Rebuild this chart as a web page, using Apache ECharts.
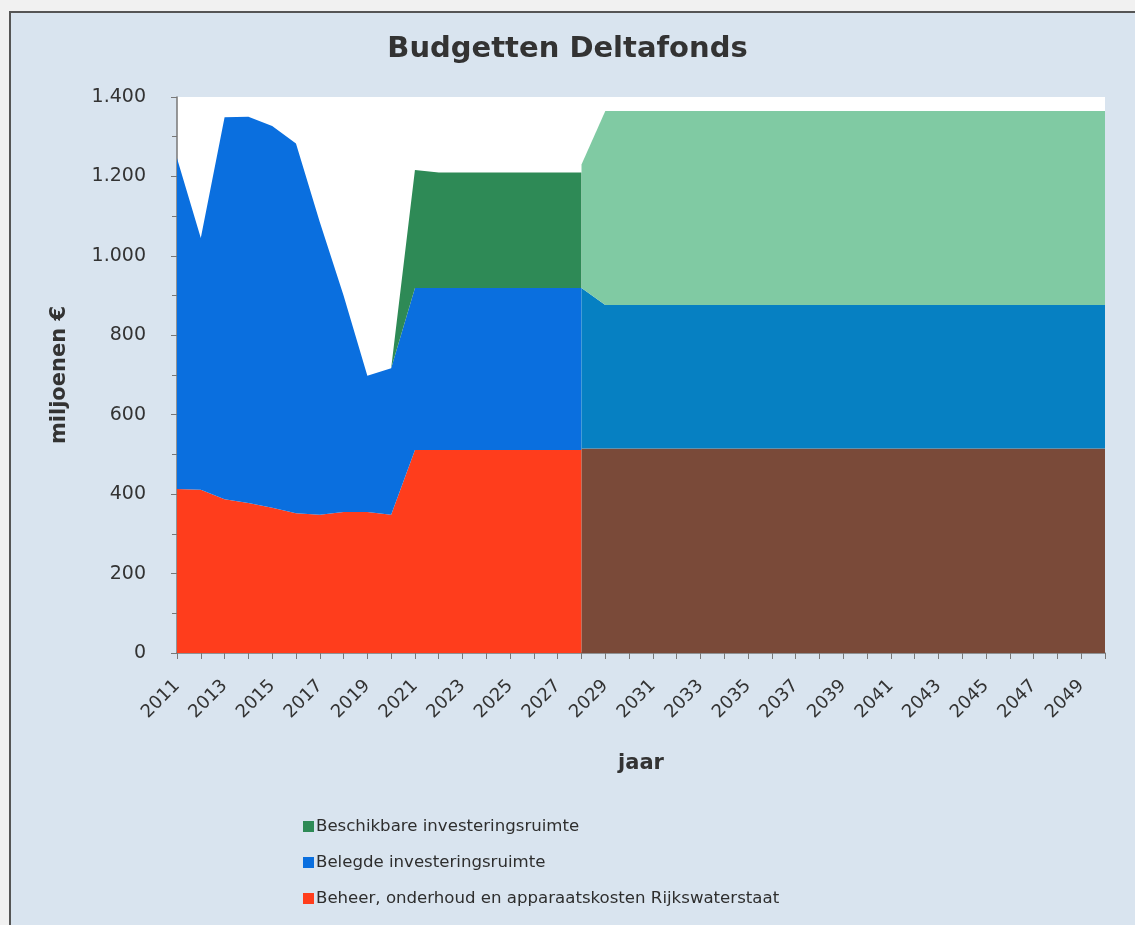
<!DOCTYPE html>
<html>
<head>
<meta charset="utf-8">
<script src="https://cdn.jsdelivr.net/npm/echarts@6/dist/echarts.min.js"></script>
<style>
html,body{margin:0;padding:0;background:#f1f1f1;width:1135px;height:925px;overflow:hidden;}
#frame{position:absolute;left:9px;top:11px;right:0;bottom:0;background:#d9e4ef;border-left:2px solid #555;border-top:2px solid #555;}
#chart{position:absolute;left:0;top:0;width:1135px;height:925px;}
</style>
</head>
<body>
<div id="frame"></div>
<div id="chart"></div>
<script>
const years = [];
for (let y = 2011; y <= 2050; y++) years.push(String(y));

// Historical series 2011-2028
const beheerHist   = [413,411,387,378,366,352,348,355,355,348,511,511,511,511,511,511,511,511];
const belegdHist   = [833,634,962,972,961,931,737,545,343,369,408,408,408,408,408,408,408,408];
const beschikHist  = [null,null,null,null,null,null,null,null,null,0,297,291,291,291,291,291,291,291];

// Projection series 2028-2050
const beheerProj  = [515,515,515,515,515,515,515,515,515,515,515,515,515,515,515,515,515,515,515,515,515,515,515];
const belegdProj  = [404,361,361,361,361,361,361,361,361,361,361,361,361,361,361,361,361,361,361,361,361,361,361];
const beschikProj = [311,489,489,489,489,489,489,489,489,489,489,489,489,489,489,489,489,489,489,489,489,489,489];

const yTicks = [0,200,400,600,800,1000,1200,1400];

function padHist(arr){ const out = arr.slice(); while(out.length < years.length) out.push(null); return out; }
function padProj(arr){ const out = []; while(out.length + arr.length < years.length) out.push(null); return out.concat(arr); }

const FONT = 'DejaVu Sans';
const chart = echarts.init(document.getElementById('chart'));

function area(name, stack, data, color){
  return {
    name: name, type: 'line', stack: stack, data: data,
    symbol: 'none', showSymbol: false,
    lineStyle: {width: 0, color: color},
    itemStyle: {color: color},
    areaStyle: {color: color, opacity: 1},
    emphasis: {disabled: true},
    animation: false
  };
}

chart.setOption({
  backgroundColor: 'transparent',
  textStyle: {fontFamily: FONT},
  title: {
    text: 'Budgetten Deltafonds',
    left: 'center', top: 30,
    textStyle: {fontFamily: FONT, fontSize: 29, fontWeight: 'bold', color: '#333'}
  },
  legend: {
    orient: 'vertical', left: 298, top: 813,
    itemWidth: 11, itemHeight: 11, itemGap: 19,
    icon: 'rect',
    data: ['Beschikbare investeringsruimte','Belegde investeringsruimte','Beheer, onderhoud en apparaatskosten Rijkswaterstaat'],
    textStyle: {fontFamily: FONT, fontSize: 16.6, color: '#2e2e2e', padding: [0,0,0,-3]}
  },
  grid: {
    left: 177, right: 30, top: 97, bottom: 272,
    show: true, backgroundColor: '#ffffff', borderWidth: 0
  },
  xAxis: {
    type: 'category', data: years, boundaryGap: false,
    name: 'jaar', nameLocation: 'middle', nameGap: 100,
    nameTextStyle: {fontFamily: FONT, fontSize: 21, fontWeight: 'bold', color: '#333'},
    axisLine: {lineStyle: {color: '#777', width: 1.5}},
    axisTick: {show: true, interval: 0, length: 6, lineStyle: {color: '#777'}},
    axisLabel: {interval: 1, rotate: 45, fontFamily: FONT, fontSize: 18, color: '#333', margin: 30},
    splitLine: {show: false}
  },
  yAxis: {
    type: 'value', min: yTicks[0], max: yTicks[yTicks.length-1], interval: 200,
    name: 'miljoenen €', nameLocation: 'middle', nameGap: 107, nameRotate: 90,
    nameTextStyle: {fontFamily: FONT, fontSize: 21, fontWeight: 'bold', color: '#333'},
    axisLine: {show: true, lineStyle: {color: '#777', width: 1.5}},
    axisTick: {show: true, length: 6, lineStyle: {color: '#777'}},
    minorTick: {show: true, splitNumber: 2, length: 5, lineStyle: {color: '#777'}},
    axisLabel: {
      fontFamily: FONT, fontSize: 19, color: '#333', margin: 31,
      formatter: v => String(v).replace(/\B(?=(\d{3})+(?!\d))/g, '.')
    },
    splitLine: {show: false}
  },
  series: [
    area('Beheer, onderhoud en apparaatskosten Rijkswaterstaat', 'hist', padHist(beheerHist), '#ff3d1c'),
    area('Belegde investeringsruimte', 'hist', padHist(belegdHist), '#0a6fdf'),
    area('Beschikbare investeringsruimte', 'hist', padHist(beschikHist), '#2e8a56'),
    area('Beheer (raming)', 'proj', padProj(beheerProj), '#7a4a39'),
    area('Belegd (raming)', 'proj', padProj(belegdProj), '#0680c2'),
    area('Beschikbaar (raming)', 'proj', padProj(beschikProj), '#80caa3')
  ]
});
</script>
</body>
</html>
